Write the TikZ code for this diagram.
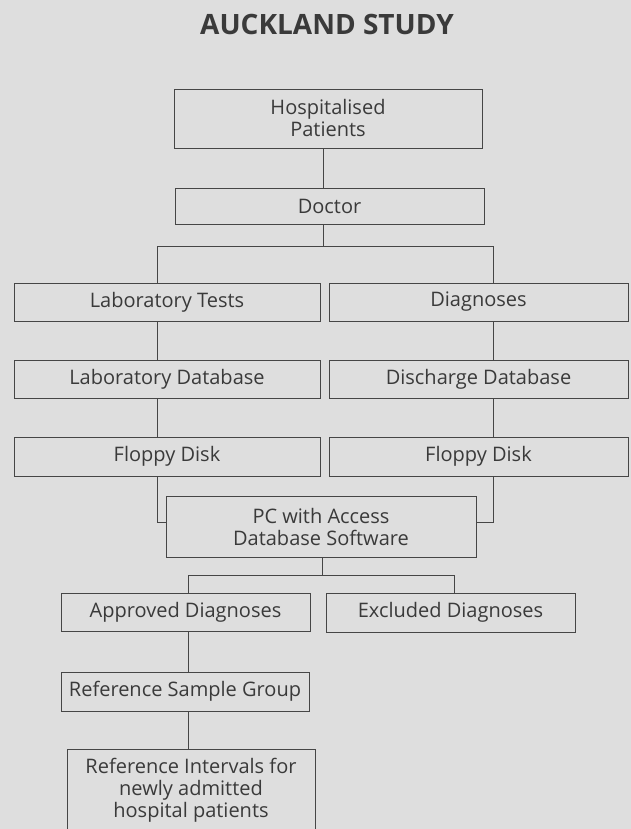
\documentclass[tikz,border=0pt]{standalone}
\usepackage{fontspec}
\setmainfont{Open Sans}
\usepackage{tikz}
\usetikzlibrary{positioning}
\definecolor{akbg}{RGB}{222,222,222}
\definecolor{akline}{RGB}{70,70,70}
\definecolor{aktext}{RGB}{58,58,58}
\tikzstyle{flowbox} = [rectangle, draw=akline, line width=0.9pt, inner sep=0pt, align=center, text=aktext, font=\fontsize{20}{22}\selectfont]
\tikzstyle{link} = [draw=akline, line width=0.9pt]

\begin{document}
\begin{tikzpicture}[x=1pt, y=-1pt]
% page
\clip (0,0) rectangle (631,829);
\fill[akbg] (0,0) rectangle (631,829);

% title
\node[anchor=base, text=aktext, font=\fontsize{28}{32}\selectfont\bfseries] (title) at (327,35) {AUCKLAND STUDY};

% boxes
\node[flowbox, minimum width=308pt, minimum height=59pt] (hosp) at (328,118.5) {Hospitalised\\Patients};
\node[flowbox, minimum width=309pt, minimum height=36pt] (doctor) at (329.5,206) {Doctor};
\node[flowbox, minimum width=306pt, minimum height=38pt] (labtests) at (167,302) {Laboratory Tests};
\node[flowbox, minimum width=299pt, minimum height=38pt] (diag) at (478.5,302) {Diagnoses};
\node[flowbox, minimum width=306pt, minimum height=38pt] (labdb) at (167,379) {Laboratory Database};
\node[flowbox, minimum width=299pt, minimum height=38pt] (dischdb) at (478.5,379) {Discharge Database};
\node[flowbox, minimum width=306pt, minimum height=39pt] (floppyL) at (167,456.5) {Floppy Disk};
\node[flowbox, minimum width=299pt, minimum height=39pt] (floppyR) at (478.5,456.5) {Floppy Disk};
\node[flowbox, minimum width=310pt, minimum height=61pt] (pc) at (321,526.5) {PC with Access\\Database Software};
\node[flowbox, minimum width=249pt, minimum height=38pt] (approved) at (185.5,612) {Approved Diagnoses};
\node[flowbox, minimum width=249pt, minimum height=39pt] (excluded) at (450.5,612.5) {Excluded Diagnoses};
\node[flowbox, minimum width=248pt, minimum height=39pt] (refgroup) at (185,691.5) {Reference Sample Group};
\node[flowbox, minimum width=248pt, minimum height=82pt] (refint) at (191,790) {Reference Intervals for\\newly admitted\\hospital patients};

% junctions
\coordinate (busA) at (323,246);
\coordinate (colL) at (157,246);
\coordinate (colR) at (493,246);
\coordinate (pcin) at (0,522);
\coordinate (busB) at (322,575);
\coordinate (brL) at (188,575);
\coordinate (brR) at (454,575);

% connectors
\draw[link] (hosp.south -| busA) -- (doctor.north -| busA);
\draw[link] (doctor.south -| busA) -- (busA);
\draw[link] (labtests.north -| colL) -- (colL) -- (colR) -- (diag.north -| colR);
\draw[link] (labtests.south -| colL) -- (labdb.north -| colL);
\draw[link] (diag.south -| colR) -- (dischdb.north -| colR);
\draw[link] (labdb.south -| colL) -- (floppyL.north -| colL);
\draw[link] (dischdb.south -| colR) -- (floppyR.north -| colR);
\draw[link] (floppyL.south -| colL) |- (pc.west |- pcin);
\draw[link] (floppyR.south -| colR) |- (pc.east |- pcin);
\draw[link] (pc.south -| busB) -- (busB);
\draw[link] (approved.north -| brL) -- (brL) -- (brR) -- (excluded.north -| brR);
\draw[link] (approved.south -| brL) -- (refgroup.north -| brL);
\draw[link] (refgroup.south -| brL) -- (refint.north -| brL);
\end{tikzpicture}
\end{document}
